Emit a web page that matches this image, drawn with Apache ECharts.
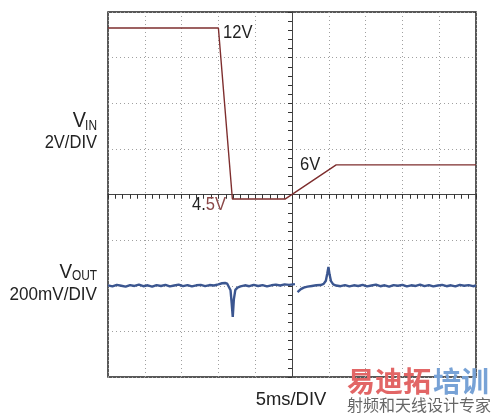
<!DOCTYPE html>
<html>
<head>
<meta charset="utf-8">
<script src="https://cdn.jsdelivr.net/npm/echarts@6/dist/echarts.min.js"></script>
<style>
html,body{margin:0;padding:0;background:#fff;}
#chart{width:500px;height:420px;}
</style>
</head>
<body>
<div id="chart"></div>
<script>
// Time in ms relative to screen centre (5 ms/div, 10 divisions)
var vinTime = [-25, -10, -8.1, -0.95, 6, 25];
var vinVolts = [12, 12, 4.5, 4.5, 6, 6];

var voutTime = [-25,-24.4,-23.8,-23.2,-22.6,-22,-21.4,-20.8,-20.2,-19.6,-19,-18.4,-17.8,-17.2,-16.6,-16,-15.4,-14.8,-14.2,-13.6,-13,-12.4,-11.8,-11.2,-10.6,-10,-9.5,-9.1,-8.8,-8.55,-8.35,-8.2,-8.05,-7.9,-7.7,-7.4,-7,-6.4,-5.8,-5.2,-4.6,-4,-3.4,-2.8,-2.2,-1.6,-1,-0.4,0.4,0.55,0.75,0.95,1.2,1.6,2.1,2.7,3.3,3.9,4.3,4.6,4.8,4.95,5.1,5.3,5.6,6.0,6.6,7.2,7.8,8.4,9,9.6,10.2,10.8,11.4,12,12.6,13.2,13.8,14.4,15,15.6,16.2,16.8,17.4,18,18.6,19.2,19.8,20.4,21,21.6,22.2,22.8,23.4,24,24.6,25];
var voutMilliVolts = [2,-3,4,0,-4,3,-1,5,-2,2,-4,3,-1,4,-3,1,5,-2,3,-3,2,4,-2,3,1,6,11,12,9,2,-20,-75,-137,-60,-18,-8,-3,2,-2,4,-1,3,-3,2,5,1,6,4,7,null,-28,-22,-15,-8,-4,-1,2,3,8,22,55,82,50,20,6,1,-2,3,-3,2,-1,4,-3,1,5,-2,2,-4,3,0,4,-3,2,-1,5,-2,3,-3,1,4,-2,2,-3,4,0,3,-2,1];

var textLabels = {
  vin: '12V', vmid: '6V', vlowA: '4.', vlowB: '5V',
  vinName: 'V', vinSub: 'IN', vinScale: '2V/DIV',
  voutName: 'V', voutSub: 'OUT', voutScale: '200mV/DIV',
  timeScale: '5ms/DIV',
  wmRed: '易迪拓', wmBlue: '培训', wmSub: '射频和天线设计专家'
};

function zip(a, b) { return a.map(function (v, i) { return [v, b[i]]; }); }

var FONT = '"Liberation Sans", Arial, sans-serif';
var chart = echarts.init(document.getElementById('chart'), null, {renderer: 'canvas'});

var centreAxisCommon = {
  type: 'value',
  axisLabel: {show: false},
  axisLine: {show: true, onZero: true, onZeroAxisIndex: 0, lineStyle: {color: '#444', width: 1}},
  minorTick: {show: true, splitNumber: 5, length: 4, lineStyle: {color: '#333', width: 1}},
  minorSplitLine: {show: false}
};

function label(text, x, y, size, align, sx, extra) {
  return Object.assign({
    type: 'text', x: x, y: y, scaleX: sx, z: 50,
    style: {text: text, font: size + 'px ' + FONT, fill: '#222', align: align, verticalAlign: 'middle'}
  }, extra || {});
}

var option = {
  animation: false,
  backgroundColor: '#fff',
  grid: {left: 108, top: 12, width: 368, height: 365, show: true, borderColor: '#222', borderWidth: 1.5, containLabel: false},
  xAxis: [
    Object.assign({}, centreAxisCommon, {min: -25, max: 25, interval: 5,
      axisTick: {show: true, length: 4, inside: false, lineStyle: {color: '#333'}},
      splitLine: {show: true, lineStyle: {color: '#a0a0a0', width: 1, type: [1, 3]}}}),
    Object.assign({}, centreAxisCommon, {min: -25, max: 25, interval: 5,
      axisTick: {show: true, length: 4, inside: true, lineStyle: {color: '#333'}},
      splitLine: {show: false}})
  ],
  yAxis: [
    Object.assign({}, centreAxisCommon, {min: -4, max: 4, interval: 1,
      axisTick: {show: true, length: 4, inside: false, lineStyle: {color: '#333'}},
      splitLine: {show: true, lineStyle: {color: '#a0a0a0', width: 1, type: [1, 3]}}}),
    Object.assign({}, centreAxisCommon, {min: -4, max: 4, interval: 1,
      axisTick: {show: true, length: 4, inside: true, lineStyle: {color: '#333'}},
      splitLine: {show: false}}),
    {type: 'value', show: false, min: -3.3, max: 12.7, splitLine: {show: false}},
    {type: 'value', show: false, min: -400, max: 1200, splitLine: {show: false}}
  ],
  series: [
    {name: 'VIN', type: 'line', xAxisIndex: 0, yAxisIndex: 2, data: zip(vinTime, vinVolts),
      showSymbol: false, lineStyle: {color: '#7e2e2e', width: 1.4}, z: 5},
    {name: 'VOUT', type: 'line', xAxisIndex: 0, yAxisIndex: 3, data: zip(voutTime, voutMilliVolts),
      showSymbol: false, connectNulls: false, lineStyle: {color: '#3b5690', width: 2.4}, z: 5}
  ],
  graphic: [
    label(textLabels.vin, 223, 33, 18, 'left', 0.92),
    label(textLabels.vmid, 300, 165, 18, 'left', 0.92),
    {type: 'text', x: 192, y: 205, scaleX: 0.92, z: 50,
      style: {text: '{a|' + textLabels.vlowA + '}{b|' + textLabels.vlowB + '}', font: '18px ' + FONT, verticalAlign: 'middle',
        rich: {a: {fill: '#222', font: '18px ' + FONT}, b: {fill: '#8a4848', font: '18px ' + FONT}}}},
    label(textLabels.vinName, 86, 121, 22, 'right', 0.9),
    label(textLabels.vinSub, 97, 126, 14, 'right', 0.85),
    label(textLabels.vinScale, 97, 143, 19, 'right', 0.87),
    label(textLabels.voutName, 72, 272, 21, 'right', 0.9),
    label(textLabels.voutSub, 97, 276, 14, 'right', 0.85),
    label(textLabels.voutScale, 97, 295, 19, 'right', 0.9),
    label(textLabels.timeScale, 291, 400, 19, 'center', 0.97),
    {type: 'text', x: 347, y: 381, z: 100, style: {text: textLabels.wmRed, font: 'bold 28px "Noto Sans CJK SC"', fill: '#e26666', verticalAlign: 'middle'}},
    {type: 'text', x: 433, y: 381, z: 100, style: {text: textLabels.wmBlue, font: 'bold 28px "Noto Sans CJK SC"', fill: '#77a2d6', verticalAlign: 'middle'}},
    {type: 'text', x: 347, y: 405, z: 100, style: {text: textLabels.wmSub, font: '16px "Noto Sans CJK SC"', fill: '#666', verticalAlign: 'middle'}}
  ]
};
chart.setOption(option);
</script>
</body>
</html>
